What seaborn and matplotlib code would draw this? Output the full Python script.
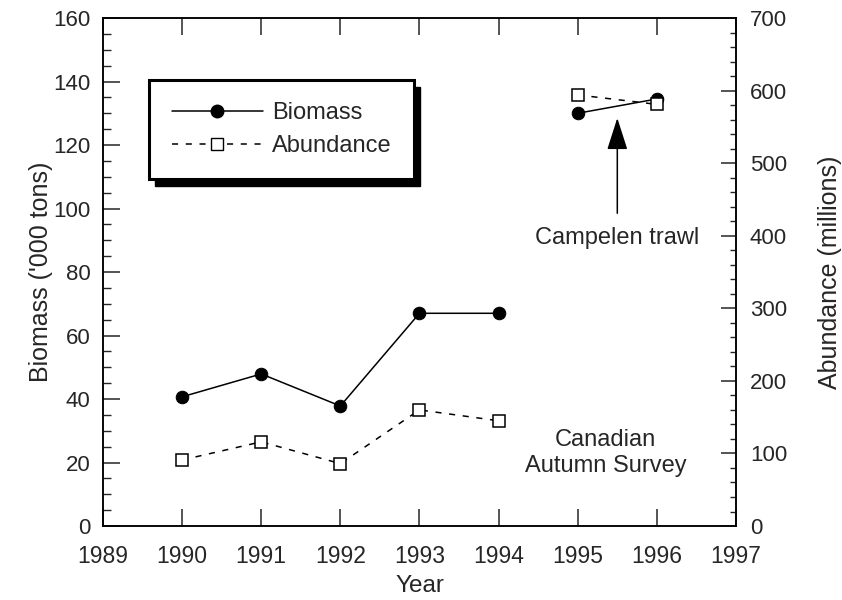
import numpy as np
import pandas as pd
import seaborn as sns
import matplotlib
matplotlib.use("Agg")
import matplotlib.pyplot as plt
from matplotlib.lines import Line2D
from matplotlib.patches import Rectangle
from matplotlib.transforms import IdentityTransform
from matplotlib.ticker import MultipleLocator

# ---- data ----
years_canadian = [1990, 1991, 1992, 1993, 1994]
biomass_canadian = [40.7, 47.9, 37.8, 67.0, 67.0]          # '000 tons
abundance_canadian = [91, 116, 86, 160, 145]              # millions
years_campelen = [1995, 1996]
biomass_campelen = [130.0, 134.5]
abundance_campelen = [594, 581]

x_ticks = [1989, 1990, 1991, 1992, 1993, 1994, 1995, 1996, 1997]
left_ticks = [0, 20, 40, 60, 80, 100, 120, 140, 160]
right_ticks = [0, 100, 200, 300, 400, 500, 600, 700]

sns.set_style("ticks")
plt.rcParams['font.family'] = ['Liberation Sans', 'DejaVu Sans']
plt.rcParams['axes.linewidth'] = 1.1

fig = plt.figure(figsize=(8.42, 6.0), dpi=100)
ax = fig.add_axes([0.1223, 0.1233, 0.7518, 0.8467])
ax2 = ax.twinx()

bio_kw = dict(color='black', lw=1.1, marker='o', markersize=9,
              markerfacecolor='black', markeredgecolor='black', legend=False)
abu_kw = dict(color='black', lw=1.1, marker='s', markersize=9,
              markerfacecolor='white', markeredgecolor='black', markeredgewidth=1.1,
              linestyle=(0, (4, 5)), legend=False)

sns.lineplot(x=years_canadian, y=biomass_canadian, ax=ax, **bio_kw)
sns.lineplot(x=years_campelen, y=biomass_campelen, ax=ax, **bio_kw)
sns.lineplot(x=years_canadian, y=abundance_canadian, ax=ax2, **abu_kw)
sns.lineplot(x=years_campelen, y=abundance_campelen, ax=ax2, **abu_kw)

ax.set_xlim(1989, 1997)
ax.set_ylim(0, 160)
ax2.set_ylim(0, 700)

ax.set_xticks(x_ticks)
ax.set_xticklabels([str(v) for v in x_ticks])
ax.set_yticks(left_ticks)
ax.set_yticklabels([str(v) for v in left_ticks])
ax.yaxis.set_minor_locator(MultipleLocator(5))
ax2.set_yticks(right_ticks)
ax2.set_yticklabels([str(v) for v in right_ticks])
ax2.yaxis.set_minor_locator(MultipleLocator(20))

ax.tick_params(axis='x', which='major', direction='in', length=12, width=1.1,
               top=True, labelsize=16.5, pad=14)
ax.tick_params(axis='y', which='major', direction='in', length=12, width=1.1,
               labelsize=16, pad=9, right=False)
ax.tick_params(axis='y', which='minor', direction='in', length=6, width=1.0, right=False)
ax2.tick_params(axis='y', which='major', direction='in', length=11, width=1.1,
                labelsize=16, pad=10)
ax2.tick_params(axis='y', which='minor', direction='in', length=4.5, width=1.0)

for a in (ax, ax2):
    for s in a.spines.values():
        s.set_visible(True)
        s.set_linewidth(1.1)
        s.set_color('black')

ax.set_xlabel("Year", fontsize=17.5, labelpad=5)
ax.set_ylabel("Biomass ('000 tons)", fontsize=18, labelpad=0)
ax2.set_ylabel("Abundance (millions)", fontsize=18, labelpad=22, rotation=90)

# annotations
ax.annotate("", xy=(1995.5, 128.5), xytext=(1995.5, 98.5),
            arrowprops=dict(arrowstyle="-|>,head_length=1.0,head_width=0.32",
                            color='black', lw=1.1, mutation_scale=20,
                            shrinkA=0, shrinkB=0))
ax.text(1995.5, 90.7, "Campelen trawl", fontsize=17, ha='center', va='center')
ax.text(1995.35, 23.0, "Canadian\nAutumn Survey", fontsize=17, ha='center',
        va='center', linespacing=1.22)

# legend
handles = [Line2D([], [], color='black', lw=1.1, marker='o', markersize=9),
           Line2D([], [], color='black', lw=1.1, marker='s', markersize=9,
                  markerfacecolor='white', linestyle=(0, (4, 5)))]
leg = ax2.legend(handles, ["Biomass", "Abundance"], loc='upper left',
                 bbox_to_anchor=(0.073, 0.878), borderaxespad=0,
                 fontsize=17, handlelength=3.85, handletextpad=0.42,
                 frameon=True, fancybox=False, framealpha=1,
                 edgecolor='black', borderpad=0.95, labelspacing=0.45)
leg.get_frame().set_linewidth(2.2)

fig.canvas.draw()
bb = leg.get_window_extent()
shadow = Rectangle((bb.x0 + 6, bb.y0 - 7), bb.width, bb.height,
                   transform=IdentityTransform(), facecolor='black',
                   edgecolor='black', zorder=4.5, clip_on=False)
ax2.add_artist(shadow)

fig.savefig("out.png", dpi=100)
